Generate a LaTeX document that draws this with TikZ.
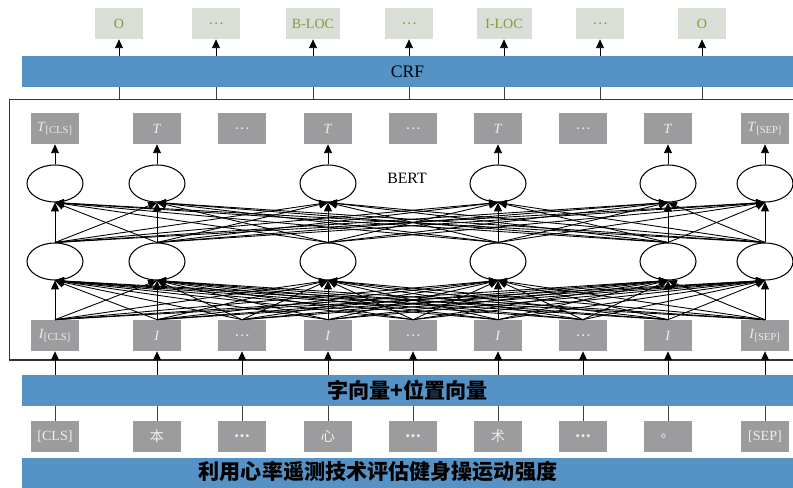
\documentclass[tikz,border=0pt]{standalone}
\usepackage{fontspec}
\setmainfont{Liberation Serif}
\newfontfamily\cjk{Noto Sans CJK SC}
\usepackage{tikz}
\usetikzlibrary{shapes.geometric, arrows.meta, positioning, calc}
\definecolor{barblue}{HTML}{5592C6}
\definecolor{boxgray}{HTML}{9C9C9E}
\definecolor{tagfill}{HTML}{D9DFD6}
\definecolor{tagtext}{HTML}{849A3C}
\definecolor{vectext}{HTML}{EEEEEE}

\begin{document}
\begin{tikzpicture}[x=0.02cm, y=-0.02cm,
        tag/.style={rectangle, minimum width=0.96cm, minimum height=0.62cm, inner sep=0pt, fill=tagfill, text=tagtext, font=\footnotesize},
        vec/.style={rectangle, minimum width=0.96cm, minimum height=0.62cm, inner sep=0pt, fill=boxgray, text=vectext, font=\footnotesize},
        neuron/.style={draw, ellipse, minimum width=1.12cm, minimum height=0.74cm, inner sep=0pt, line width=0.6pt},
        bar/.style={rectangle, minimum width=15.42cm, minimum height=0.62cm, inner sep=0pt, fill=barblue},
        arrow/.style={-{Triangle[width=4.5pt,length=5pt]}, line width=0.5pt},
        link/.style={line width=0.5pt, draw=black!75}
    ]
        \useasboundingbox (0,0) rectangle (793,487);

        % CRF and output tags
        \node[bar, font=\normalsize] (crf) at (407.5,71.5) {CRF};
        \foreach \x/\t/\w [count=\k] in {119/O/0.96cm, 216/{\cjk …}/0.96cm, 313/B-LOC/1.08cm, 409/{\cjk …}/0.96cm,
                504/I-LOC/1.1cm, 600/{\cjk …}/0.96cm, 702/O/0.96cm}
            \node[tag, minimum width=\w] (o\k) at (\x,23.5) {\t};

        % BERT block
        \node[draw=black!80, line width=0.6pt, minimum width=15.82cm, minimum height=5.22cm] (bert) at (404.5,229.5) {};
        \node[font=\small] (bertlabel) at (407,178) {BERT};

        \foreach \x/\t [count=\k] in {55/{\textit{T}\textsubscript{[CLS]}}, 157/\textit{T}, 242/{\cjk …}, 328/\textit{T}, 413/{\cjk …},
                498/\textit{T}, 583/{\cjk …}, 668/\textit{T}, 765/{\textit{T}\textsubscript{[SEP]}}}
            \node[vec] (t\k) at (\x,128.5) {\t};
        \foreach \x/\t [count=\k] in {55/{\textit{I}\textsubscript{[CLS]}}, 157/\textit{I}, 242/{\cjk …}, 328/\textit{I}, 413/{\cjk …},
                498/\textit{I}, 583/{\cjk …}, 668/\textit{I}, 765/{\textit{I}\textsubscript{[SEP]}}}
            \node[vec] (i\k) at (\x,335.5) {\t};
        \foreach \k/\x in {1/55, 2/157, 4/328, 6/498, 8/668, 9/765} {
            \node[neuron] (u\k) at (\x,183.5) {};
            \node[neuron] (l\k) at (\x,261.5) {};
        }

        % embedding and input tokens
        \node[bar, font=\cjk\bfseries\large] (emb) at (407.5,390.5) {字向量+位置向量};
        \foreach \x/\t [count=\k] in {55/[CLS], 157/{\cjk 本}, 242/{\cjk\bfseries …}, 328/{\cjk 心}, 413/{\cjk\bfseries …},
                498/{\cjk 术}, 583/{\cjk\bfseries …}, 668/{\cjk 。}, 765/[SEP]}
            \node[vec] (w\k) at (\x,436.5) {\t};
        \node[bar, minimum height=0.64cm] (sent) at (407.5,474) {};
        \node[font=\cjk\bfseries\large] (senttext) at (378,472) {利用心率遥测技术评估健身操运动强度};

        % fully connected layers
        \foreach \a in {1,...,9}
            \foreach \b in {1,2,4,6,8,9}
                \draw[arrow] (i\a.north) -- (l\b.south);
        \foreach \a in {1,2,4,6,8,9}
            \foreach \b in {1,2,4,6,8,9}
                \draw[arrow] (l\a.north) -- (u\b.south);
        \foreach \b in {1,2,4,6,8,9}
            \draw[arrow] (u\b.north) -- (t\b.south);

        \foreach \k in {1,...,9} {
            \draw[link] (w\k.north) -- (emb.south -| w\k);
            \draw[arrow] (emb.north -| i\k) -- (i\k.south);
        }
        \foreach \k in {1,...,7} {
            \draw[link] (crf.south -| o\k) -- (bert.north -| o\k);
            \draw[arrow] (crf.north -| o\k) -- (o\k.south);
        }
    \end{tikzpicture}
\end{document}
